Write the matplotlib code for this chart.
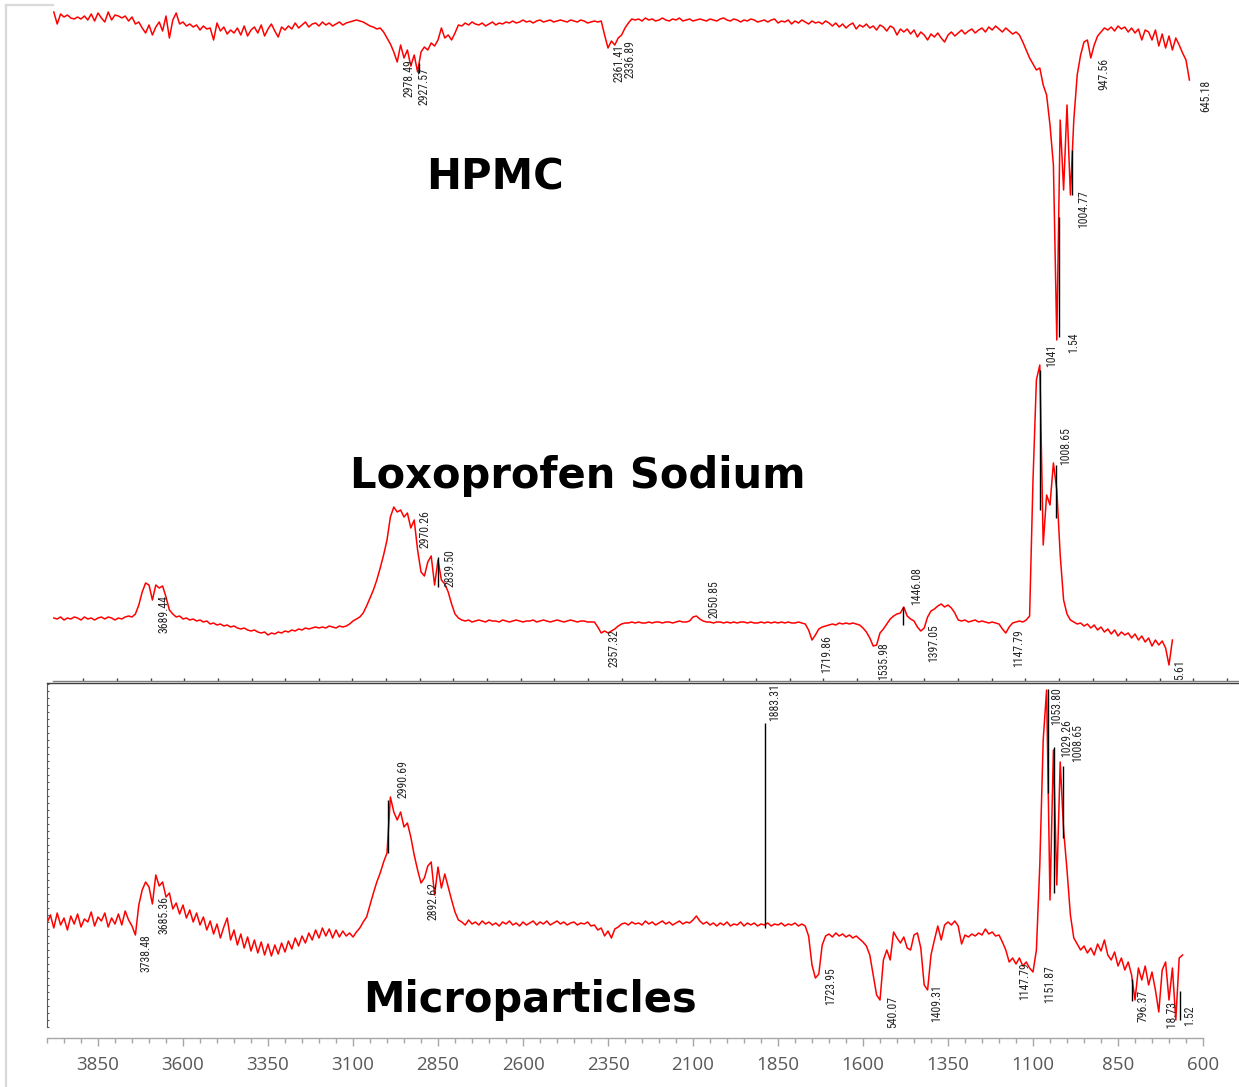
import numpy as np
import matplotlib
matplotlib.use("Agg")
import matplotlib.pyplot as plt
from matplotlib import font_manager
from matplotlib.lines import Line2D
from matplotlib.transforms import Bbox, TransformedBbox
from matplotlib.ticker import FixedLocator, NullLocator

# ---------------- data (transmittance, arbitrary units) ----------------
hpmc_start = 3980   # cm-1, sampling every 10 cm-1
hpmc_t = [
    338, 326, 336, 333, 335, 332, 331, 333, 331, 334, 330, 336, 329, 337, 332, 328, 338, 330, 335, 334, 332, 334, 329, 333, 326,
    328, 322, 317, 325, 315, 323, 328, 319, 334, 312, 330, 337, 326, 328, 324, 326, 323, 325, 320, 324, 321, 322, 310, 327, 319,
    323, 316, 320, 317, 322, 315, 324, 314, 320, 323, 317, 325, 314, 321, 326, 319, 313, 323, 320, 324, 321, 327, 322, 325, 328,
    323, 326, 327, 324, 328, 325, 327, 324, 326, 328, 325, 327, 328, 329, 330, 329, 328, 326, 324, 323, 321, 322, 318, 312, 306,
    298, 288, 305, 292, 300, 284, 295, 278, 298, 303, 300, 307, 304, 310, 322, 312, 315, 310, 317, 325, 324, 327, 325, 328, 326,
    325, 327, 324, 326, 328, 325, 327, 326, 328, 327, 329, 327, 328, 330, 328, 329, 327, 329, 330, 328, 329, 330, 328, 329, 330,
    329, 328, 330, 329, 328, 330, 329, 327, 328, 329, 328, 329, 315, 302, 309, 305, 312, 315, 322, 327, 331, 330, 331, 329, 332,
    330, 331, 329, 330, 332, 330, 329, 331, 330, 332, 329, 330, 331, 329, 330, 331, 330, 329, 331, 330, 329, 331, 332, 330, 329,
    331, 330, 328, 330, 329, 331, 330, 328, 329, 330, 328, 330, 331, 327, 329, 328, 330, 326, 329, 327, 330, 328, 326, 329, 327,
    328, 326, 329, 327, 324, 327, 323, 326, 322, 325, 327, 321, 325, 323, 326, 322, 324, 320, 325, 323, 319, 324, 322, 315, 321,
    318, 321, 316, 320, 313, 318, 315, 310, 316, 313, 317, 312, 308, 315, 318, 314, 317, 320, 316, 319, 321, 317, 320, 322, 318,
    323, 320, 324, 321, 318, 322, 319, 316, 318, 315, 308, 300, 292, 286, 280, 282, 265, 255, 225, 185, 10, 230, 160, 245, 155,
    230, 275, 295, 308, 310, 292, 305, 314, 318, 322, 320, 323, 319, 324, 321, 323, 318, 322, 317, 321, 310, 320, 318, 310, 320,
    304, 316, 302, 314, 300, 312, 305, 297, 290, 270,
]

lox_start = 3980
lox_t = [
    63, 62, 64, 61, 63, 62, 64, 63, 61, 64, 62, 63, 61, 63, 64, 62, 64, 63, 61, 63, 62, 64, 65, 64, 67,
    76, 89, 98, 96, 81, 96, 93, 95, 84, 71, 67, 64, 65, 62, 63, 61, 62, 60, 61, 59, 60, 57, 58, 56, 57,
    55, 56, 54, 55, 53, 52, 53, 51, 50, 51, 49, 48, 49, 46, 48, 47, 49, 48, 50, 49, 51, 50, 52, 51, 53,
    52, 53, 54, 53, 54, 53, 55, 54, 53, 55, 54, 55, 57, 60, 62, 64, 68, 75, 83, 91, 101, 113, 126, 141, 164,
    174, 169, 171, 164, 168, 153, 161, 131, 109, 105, 119, 125, 96, 121, 101, 97, 89, 77, 67, 63, 61, 60, 61, 59, 60,
    61, 60, 59, 61, 60, 60, 59, 61, 60, 59, 60, 61, 60, 59, 60, 60, 61, 59, 60, 61, 60, 59, 60, 61, 60,
    59, 60, 61, 60, 59, 60, 60, 59, 59, 59, 54, 48, 50, 48, 50, 52, 55, 57, 58, 58, 59, 58, 59, 58, 58,
    59, 58, 59, 59, 58, 59, 59, 58, 59, 60, 59, 59, 60, 64, 65, 62, 60, 59, 59, 58, 59, 59, 58, 59, 58,
    59, 58, 59, 59, 58, 59, 58, 58, 59, 58, 59, 58, 59, 58, 59, 58, 59, 58, 58, 59, 58, 57, 51, 41, 46,
    52, 54, 55, 56, 57, 56, 58, 57, 58, 57, 58, 57, 56, 53, 49, 43, 35, 36, 48, 52, 57, 62, 65, 67, 68,
    74, 65, 62, 60, 54, 50, 53, 64, 70, 72, 75, 77, 74, 76, 73, 68, 61, 60, 61, 59, 60, 61, 59, 60, 59,
    58, 59, 58, 57, 52, 48, 54, 58, 59, 60, 59, 61, 65, 201, 301, 316, 136, 186, 176, 218, 191, 126, 81, 67, 61,
    59, 57, 58, 55, 57, 53, 56, 51, 54, 49, 52, 47, 51, 45, 49, 46, 48, 43, 47, 41, 45, 39, 43, 35, 41,
    36, 40, 33, 16, 41,
]

micro_start = 4000
micro_t = [
    104, 112, 99, 114, 102, 109, 97, 111, 103, 113, 100, 108, 105, 115, 101, 110, 106, 114, 100, 109, 103, 113, 102, 116, 107,
    101, 92, 122, 137, 145, 140, 123, 152, 141, 145, 130, 134, 118, 124, 113, 122, 109, 117, 105, 114, 102, 110, 97, 106, 93,
    103, 89, 100, 109, 87, 97, 82, 93, 79, 90, 76, 87, 74, 85, 72, 83, 71, 82, 73, 84, 75, 86, 78, 89, 81,
    91, 84, 94, 87, 97, 89, 99, 91, 98, 89, 97, 90, 96, 91, 94, 90, 95, 99, 105, 110, 122, 134, 145, 154, 165,
    174, 230, 215, 207, 215, 200, 204, 190, 172, 157, 144, 149, 161, 165, 132, 160, 139, 153, 140, 127, 115, 107, 105, 102, 107,
    103, 105, 102, 106, 103, 105, 102, 104, 101, 105, 103, 106, 102, 104, 101, 105, 102, 104, 106, 102, 105, 103, 106, 102, 104,
    106, 103, 105, 102, 104, 105, 102, 104, 103, 105, 101, 102, 97, 99, 91, 96, 89, 98, 100, 103, 104, 102, 105, 103, 104,
    102, 106, 103, 105, 102, 104, 106, 103, 105, 102, 104, 106, 103, 105, 104, 107, 111, 106, 103, 105, 102, 104, 101, 104, 102,
    105, 101, 103, 102, 105, 101, 104, 102, 104, 101, 103, 102, 104, 101, 103, 102, 104, 101, 103, 102, 104, 101, 103, 101, 91,
    62, 49, 53, 82, 91, 93, 90, 94, 91, 93, 90, 92, 89, 91, 88, 85, 81, 72, 52, 32, 27, 67, 77, 67, 95,
    89, 84, 90, 79, 77, 92, 94, 79, 42, 37, 72, 87, 101, 87, 102, 105, 102, 106, 101, 83, 92, 90, 93, 91, 94,
    92, 98, 93, 95, 91, 92, 85, 77, 65, 69, 63, 69, 61, 65, 59, 55, 77, 162, 287, 337, 127, 277, 142, 265, 197,
    157, 112, 89, 83, 77, 81, 74, 79, 72, 83, 76, 87, 72, 67, 75, 61, 69, 57, 65, 52, 27, 59, 47, 61, 42,
    55, 37, 15, 57, 65, 27, 59, 7, 69, 72,
]

# peak-pick annotations (text, wavenumber, level where the label starts)
hpmc_labels = ["2978.49", "2927.57", "2361.41", "2336.89", "1004.77", "1.54", "947.56", "645.18"]
hpmc_label_wn = [2934, 2890, 2318, 2285, 950, 980, 891, 591]
hpmc_label_lvl = [253, 245, 268, 272, 122, -3, 260, 238]
hpmc_marks = [(2906, 277, 287), (985, 155, 200), (1023, 13, 133)]

lox_labels = ["3689.44", "2970.26", "2839.50", "2357.32", "2050.85", "1719.86", "1535.98",
              "1446.08", "1397.05", "1147.79", "1041", "1008.65", "5.61"]
lox_label_wn = [3656, 2888, 2815, 2332, 2038, 1706, 1538, 1441, 1391, 1141, 1044, 1003, 668]
lox_label_lvl = [48, 133, 94, 14, 63, 8, 1, 76, 19, 14, 314, 216, 1]
lox_marks = [(1079, 171, 311), (1032, 163, 216), (2850, 94, 124), (1482, 56, 74)]

micro_labels = ["3738.48", "3685.36", "2990.69", "2892.62", "1883.31", "1723.95", "540.07", "1409.31",
                "1147.79", "1151.87", "1053.80", "1029.26", "1008.65", "796.37", "718.73", "1.52"]
micro_label_wn = [3709, 3656, 2953, 2865, 1859, 1694, 1512, 1382, 1124, 1050, 1030, 1002, 970, 776, 691, 638]
micro_label_lvl = [55, 93, 229, 107, 306, 22, -1, 5, 27, 24, 302, 270, 265, 5, -6, 1]
micro_marks = [(1888, 99, 304), (1057, 234, 338), (1037, 134, 280), (1012, 189, 261),
               (2997, 174, 227), (669, 7, 36), (809, 26, 48)]

titles = ["HPMC", "Loxoprofen Sodium", "Microparticles"]

tick_values = [3850, 3600, 3350, 3100, 2850, 2600, 2350, 2100, 1850, 1600, 1350, 1100, 850, 600]
tick_labels = [str(v) for v in tick_values]

step = 10
hpmc_wn = hpmc_start - step * np.arange(len(hpmc_t))
lox_wn = lox_start - step * np.arange(len(lox_t))
micro_wn = micro_start - step * np.arange(len(micro_t))

# ---------------- fonts ----------------
available = {f.name for f in font_manager.fontManager.ttflist}
label_font = next((f for f in ["Liberation Sans Narrow", "DejaVu Sans Condensed", "Roboto Condensed", "DejaVu Sans"]
                   if f in available), "DejaVu Sans")
tick_font = "Open Sans" if "Open Sans" in available else "DejaVu Sans"

# ---------------- figure ----------------
W, H, DPI = 1239, 1087, 100
fig = plt.figure(figsize=(W / DPI, H / DPI), dpi=DPI)
fig.patch.set_facecolor("white")

X0, X1 = 47, 1239
PX_PER_WN = 0.34
WN_LEFT = 4000
WN_RIGHT = WN_LEFT - (X1 - X0) / PX_PER_WN


def add_ax(top, bottom):
    ax = fig.add_axes([X0 / W, 1 - bottom / H, (X1 - X0) / W, (bottom - top) / H])
    ax.set_xlim(WN_LEFT, WN_RIGHT)
    ax.patch.set_alpha(0)
    return ax


ax_top = add_ax(0, 350)
ax_top.set_ylim(0, 350)
ax_mid = add_ax(350, 681)
ax_mid.set_ylim(0, 331)
ax_bot = add_ax(683, 1038)
ax_bot.set_ylim(-11, 344)

RED = "#ff0000"
for ax, wn, t in [(ax_top, hpmc_wn, hpmc_t), (ax_mid, lox_wn, lox_t), (ax_bot, micro_wn, micro_t)]:
    ax.plot(wn, t, color=RED, lw=1.1, zorder=2)

for ax, marks in [(ax_top, hpmc_marks), (ax_mid, lox_marks), (ax_bot, micro_marks)]:
    for wn, lo, hi in marks:
        ax.vlines(wn, lo, hi, color="black", lw=1.0, zorder=3)

clip_bot = TransformedBbox(Bbox([[WN_LEFT, -2], [WN_RIGHT, 400]]), ax_bot.transData)
for ax, labs, wns, lvls in [(ax_top, hpmc_labels, hpmc_label_wn, hpmc_label_lvl),
                            (ax_mid, lox_labels, lox_label_wn, lox_label_lvl),
                            (ax_bot, micro_labels, micro_label_wn, micro_label_lvl)]:
    for s, wn, lv in zip(labs, wns, lvls):
        txt = ax.text(wn, lv, s, rotation=90, ha="center", va="bottom", fontsize=8.5,
                      family=label_font, color="#262626", zorder=4)
        if ax is ax_bot:
            txt.set_clip_box(clip_bot)
            txt.set_clip_on(True)

# titles
title_pos = [(495, 190), (578, 488), (530, 1012)]
for s, (px, py) in zip(titles, title_pos):
    fig.text(px / W, 1 - py / H, s, ha="center", va="baseline", fontsize=30,
             fontweight="bold", family="DejaVu Sans", color="black")

# ---------------- axes styling ----------------
for sp in ax_top.spines.values():
    sp.set_visible(False)
ax_top.set_xticks([])
ax_top.set_yticks([])

for name in ["top", "left", "right"]:
    ax_mid.spines[name].set_visible(False)
ax_mid.spines["bottom"].set_color("#7f7f7f")
ax_mid.spines["bottom"].set_linewidth(1.0)
ax_mid.spines["bottom"].set_bounds(WN_LEFT - 6 / PX_PER_WN, WN_RIGHT)
ax_mid.xaxis.set_major_locator(FixedLocator(np.linspace(3893, 3893 - 98.94 * 34, 35)))
ax_mid.tick_params(axis="x", direction="in", length=2.5, width=1.0, color="#404040", labelbottom=False)
ax_mid.set_yticks([])

ax_bot.spines["right"].set_visible(False)
ax_bot.spines["top"].set_color("#404040")
ax_bot.spines["top"].set_linewidth(1.0)
ax_bot.spines["left"].set_color("#595959")
ax_bot.spines["left"].set_linewidth(0.8)
ax_bot.spines["left"].set_bounds(0, 344)
ax_bot.spines["bottom"].set_color("#a6a6a6")
ax_bot.spines["bottom"].set_linewidth(1.0)
ax_bot.spines["bottom"].set_bounds(600, 4000)
ax_bot.set_xticks(tick_values)
ax_bot.set_xticklabels(tick_labels, family=tick_font, fontsize=13.5, color="#595959")
ax_bot.xaxis.set_minor_locator(FixedLocator(np.arange(600, 4001, 50)))
ax_bot.tick_params(axis="x", which="major", direction="out", length=6, width=1.0, color="#a6a6a6", pad=7)
ax_bot.tick_params(axis="x", which="minor", direction="out", length=3.5, width=1.0, color="#a6a6a6")
ax_bot.yaxis.set_major_locator(NullLocator())
ax_bot.yaxis.set_minor_locator(FixedLocator(np.arange(0, 344, 7)))
ax_bot.tick_params(axis="y", which="minor", direction="in", length=1.5, width=0.8, color="#595959")

# light frame at the left edge of the picture
fig.add_artist(Line2D([6 / W, 6 / W], [1 - 5 / H, 0], color="#d9d9d9", lw=1.6))
fig.add_artist(Line2D([6 / W, 53 / W], [1 - 5 / H, 1 - 5 / H], color="#d9d9d9", lw=1.6))

fig.savefig("out.png", dpi=DPI, facecolor="white")
